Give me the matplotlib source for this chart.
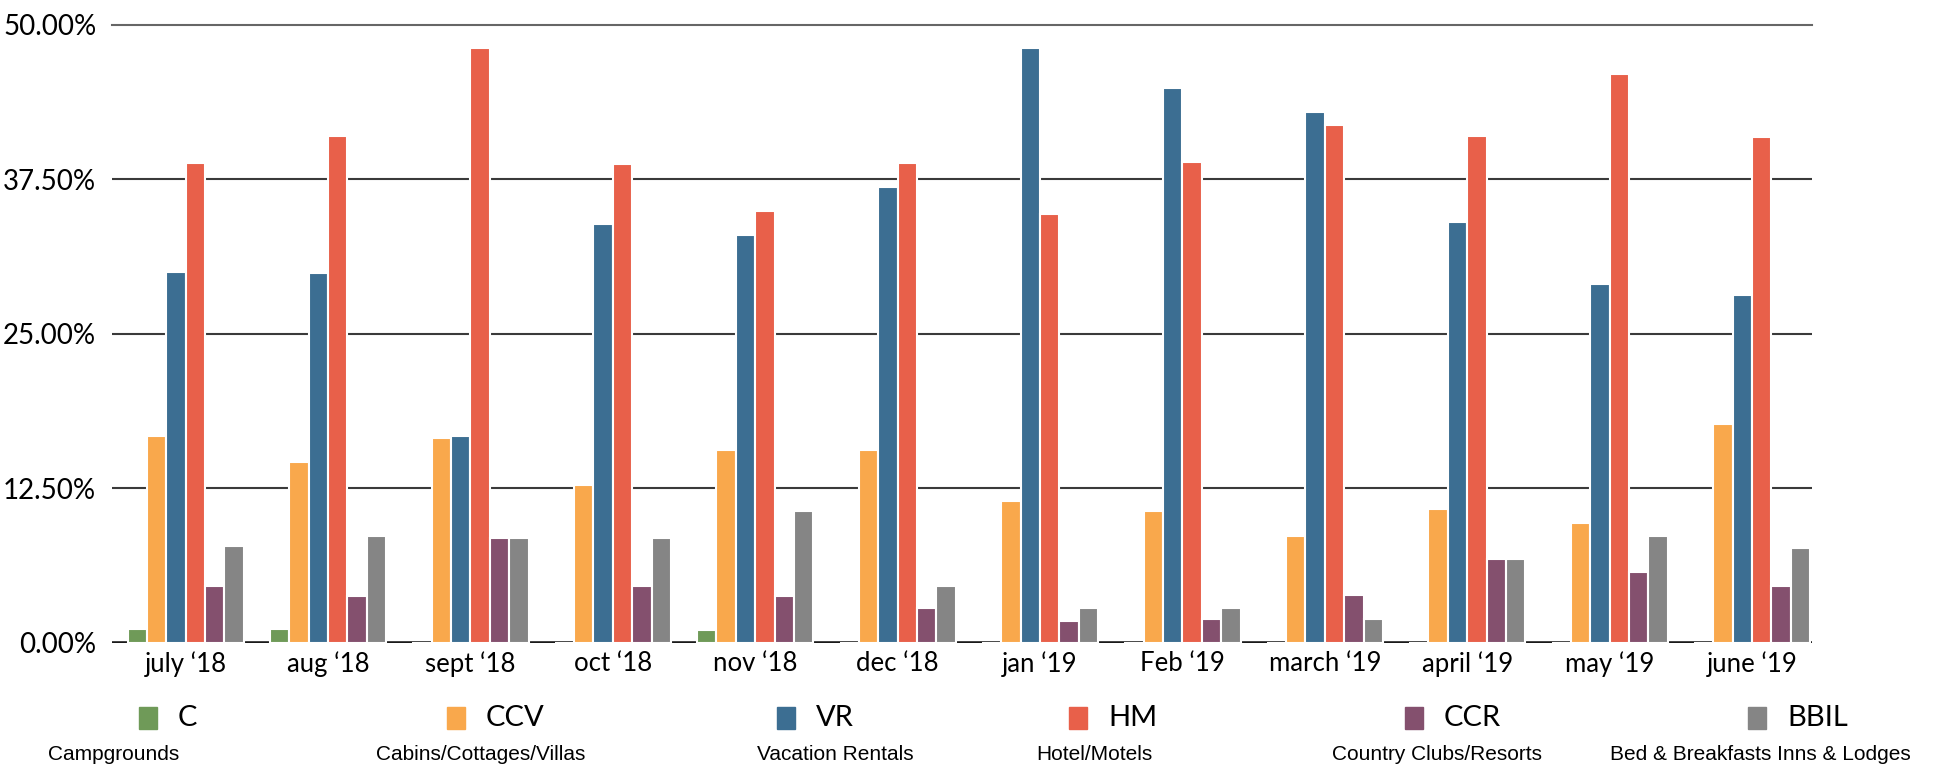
import numpy as np
import matplotlib
matplotlib.use("Agg")
import matplotlib.pyplot as plt
from matplotlib.patches import Rectangle
from matplotlib.ticker import FuncFormatter

months = ["july \u201818", "aug \u201818", "sept \u201818", "oct \u201818", "nov \u201818",
          "dec \u201818", "jan \u201819", "Feb \u201819", "march \u201819", "april \u201819",
          "may \u201819", "june \u201819"]

codes = ["C", "CCV", "VR", "HM", "CCR", "BBIL"]
names = ["Campgrounds", "Cabins/Cottages/Villas", "Vacation Rentals", "Hotel/Motels",
         "Country Clubs/Resorts", "Bed & Breakfasts Inns & Lodges"]

# share of listings per property type, in percent
C = [1.1, 1.1, 0, 0, 1.0, 0, 0, 0, 0, 0, 0, 0]
CCV = [16.7, 14.6, 16.6, 12.8, 15.6, 15.6, 11.5, 10.7, 8.6, 10.8, 9.7, 17.7]
VR = [30.0, 29.9, 16.7, 33.9, 33.0, 36.9, 48.1, 44.9, 42.9, 34.0, 29.0, 28.1]
HM = [38.8, 41.0, 48.1, 38.7, 34.9, 38.8, 34.7, 38.9, 41.9, 41.0, 46.0, 40.9]
CCR = [4.6, 3.8, 8.5, 4.6, 3.8, 2.8, 1.8, 1.9, 3.9, 6.8, 5.7, 4.6]
BBIL = [7.8, 8.6, 8.5, 8.5, 10.7, 4.6, 2.8, 2.8, 1.9, 6.8, 8.6, 7.7]

series = [C, CCV, VR, HM, CCR, BBIL]
colors = ["#6f9a58", "#f9a84c", "#3c6e92", "#e8604a", "#84506e", "#858585"]

gill = "Lato"
narrow = ["Liberation Sans Narrow", "Liberation Sans", "DejaVu Sans"]

fig = plt.figure(figsize=(19.44, 7.68), dpi=100)
ax = fig.add_axes([0.0574, 0.163, 0.8746, 0.805])

x = np.arange(len(months))
w = 0.136
for i, (vals, col) in enumerate(zip(series, colors)):
    ax.bar(x + (i - 2.5) * w, vals, width=w, color=col, edgecolor="white",
           linewidth=1.5, zorder=3)

ax.set_xlim(-0.52, 11.42)
ax.set_ylim(0, 50)
ax.set_yticks([0, 12.5, 25, 37.5, 50])
ax.yaxis.set_major_formatter(FuncFormatter(lambda v, p: f"{v:.2f}%"))
ax.set_xticks(x)
ax.set_xticklabels(months)

for s in ax.spines.values():
    s.set_visible(False)
ax.tick_params(length=0)
ax.tick_params(axis="y", pad=11)
ax.tick_params(axis="x", pad=6)
for lab in ax.get_yticklabels():
    lab.set_fontfamily(gill)
    lab.set_fontsize(20)
for lab in ax.get_xticklabels():
    lab.set_fontfamily(gill)
    lab.set_fontsize(18.5)

for v in [12.5, 25, 37.5]:
    ax.axhline(v, color="#3a3a3a", lw=1.5, zorder=1)
ax.axhline(50, color="#666666", lw=1.5, zorder=1, clip_on=False)
ax.axhline(0, color="#1a1a1a", lw=2.6, zorder=2)

# legend drawn by hand: swatch + code, with the long name underneath
swatch_cx = [148, 456, 786, 1078, 1414, 1757]
name_cx = [114, 481, 835, 1094, 1437, 1760]
W, H = 1944.0, 768.0
sw, sh = 18, 22
for k in range(6):
    fig.add_artist(Rectangle(((swatch_cx[k] - sw / 2) / W, 1 - (718 + sh / 2) / H),
                             sw / W, sh / H, transform=fig.transFigure,
                             color=colors[k]))
    fig.text((swatch_cx[k] + 30) / W, 1 - 718 / H, codes[k], fontfamily=gill,
             fontsize=21, va="center", ha="left")
    fig.text(name_cx[k] / W, 1 - 755 / H, names[k], fontfamily=narrow,
             fontsize=15, va="center", ha="center")

fig.savefig("out.png", dpi=100, facecolor="white")
